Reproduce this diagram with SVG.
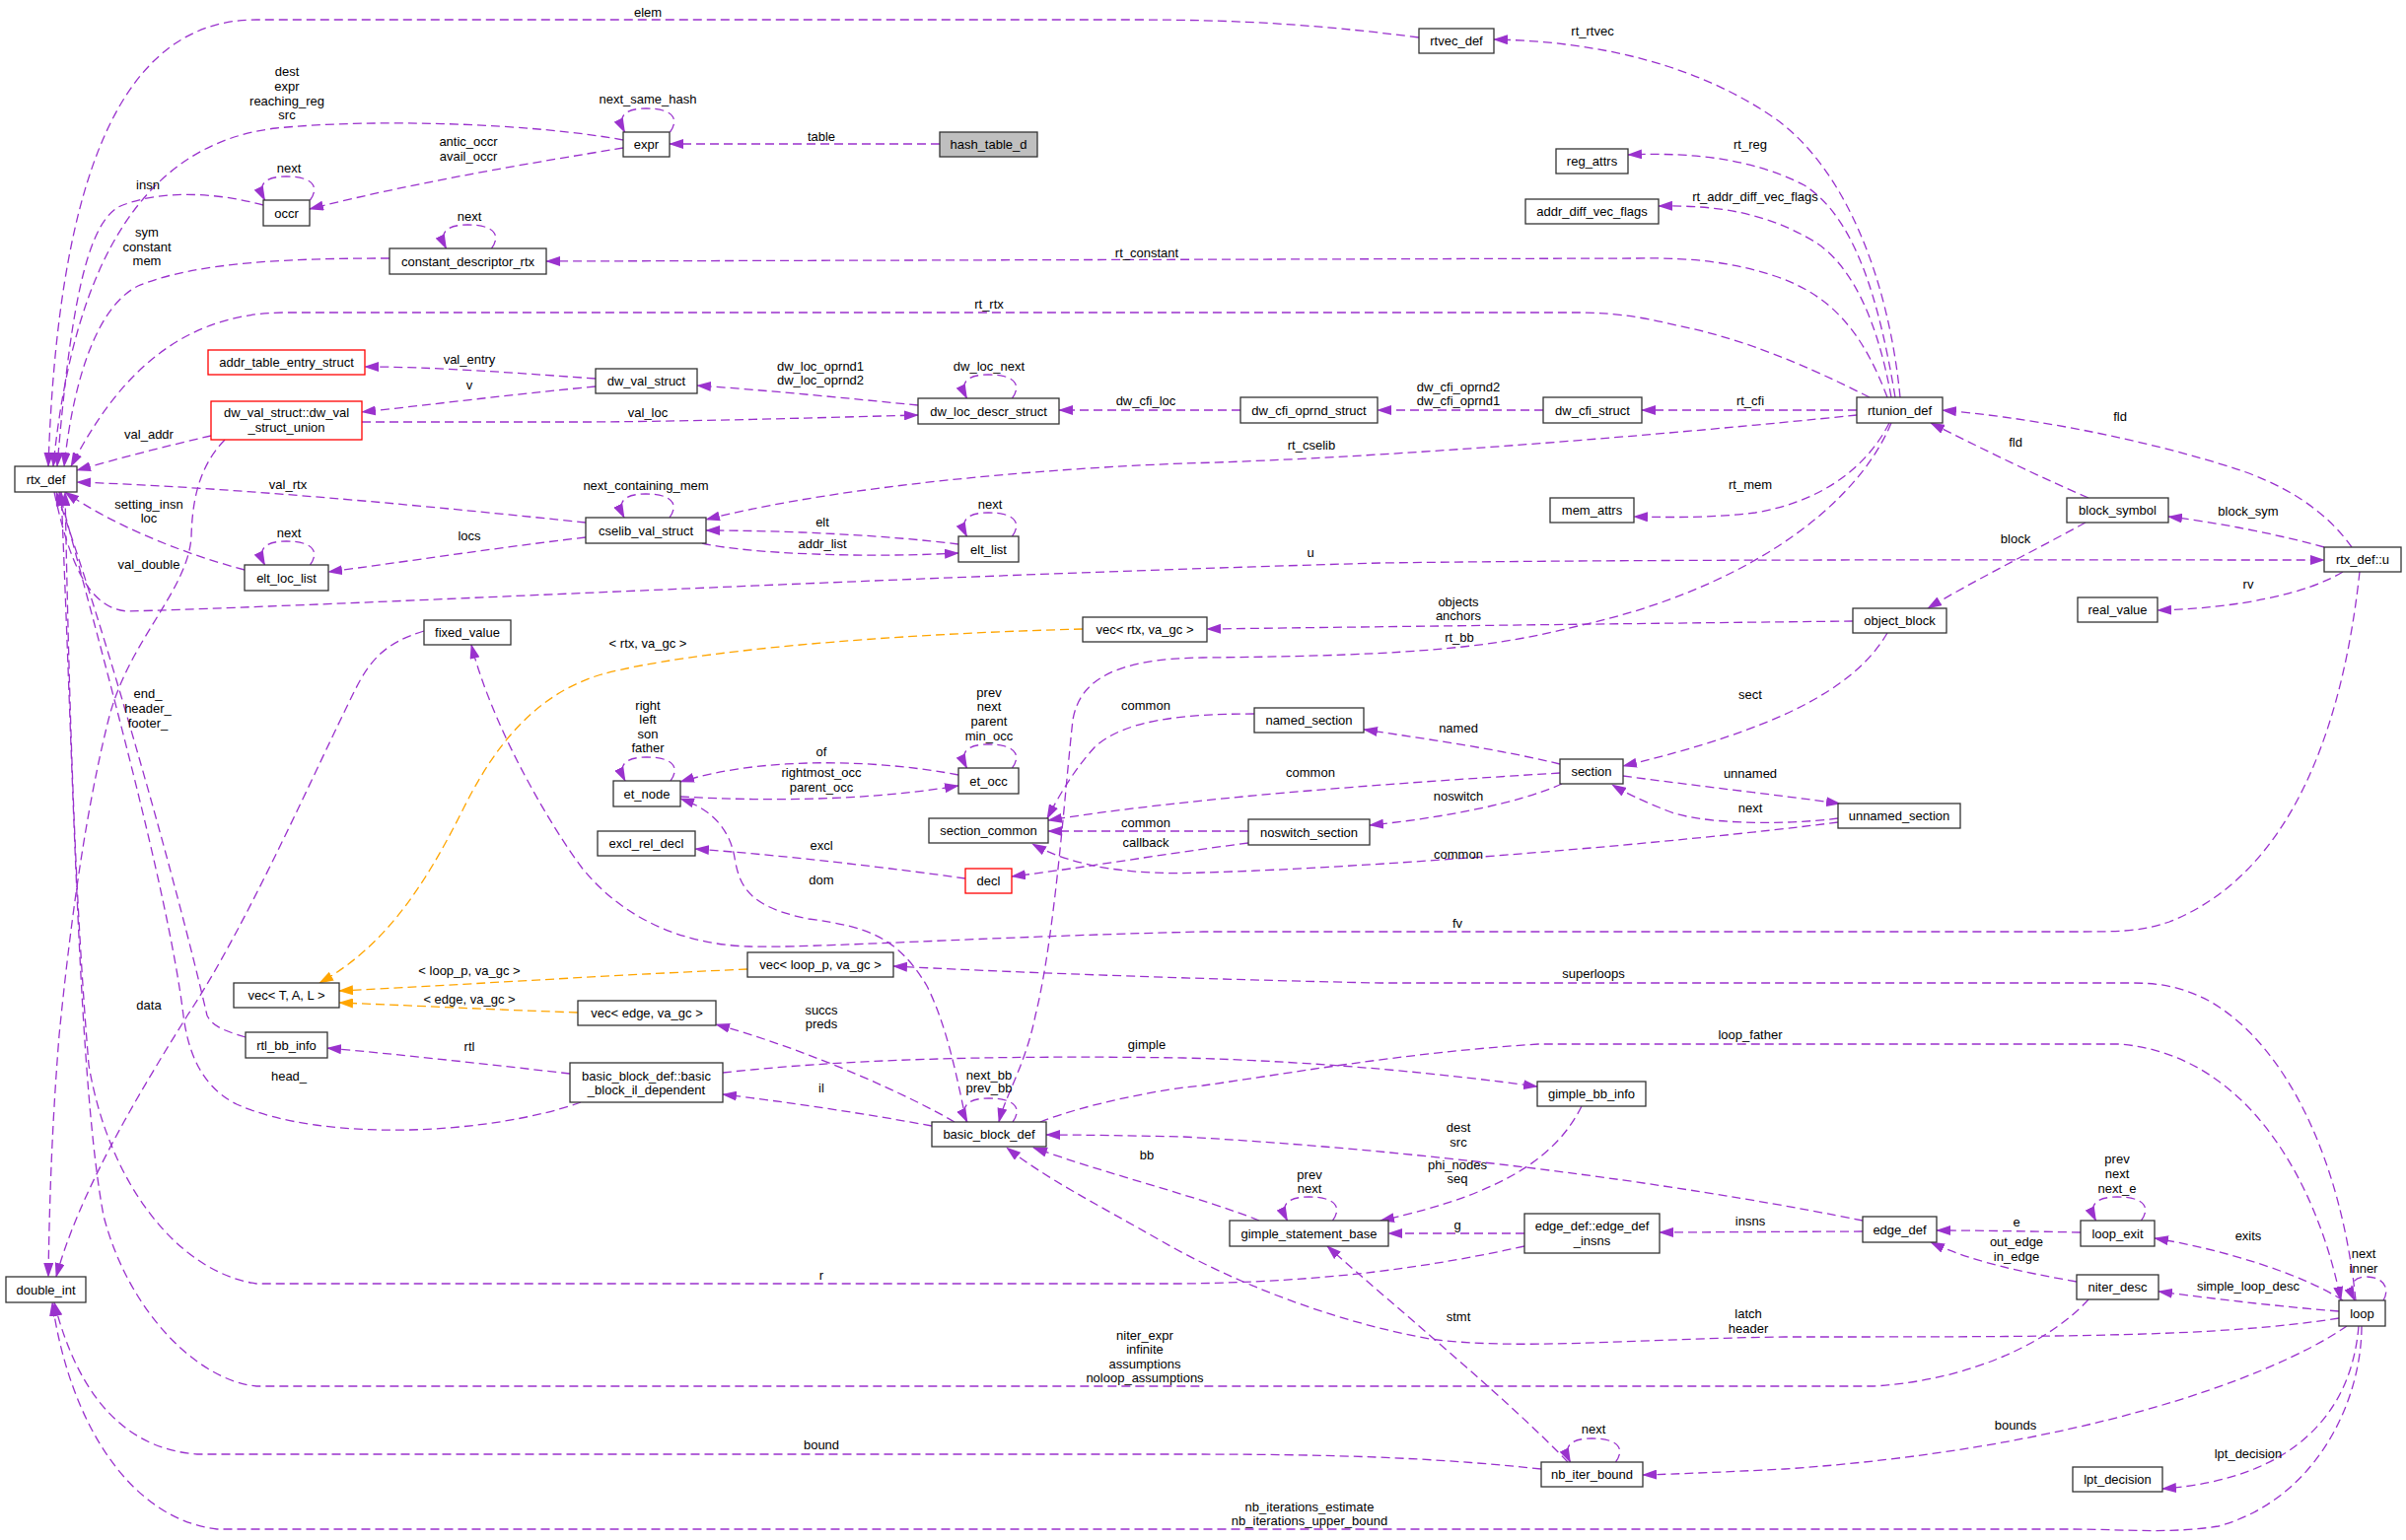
<svg xmlns="http://www.w3.org/2000/svg" width="2440" height="1562" viewBox="0 0 2440 1562">
<defs>
<style>
.n rect{fill:#fff;stroke:#333;stroke-width:1.3}
.n rect.red{stroke:#ff0000}
.n rect.gray{fill:#bfbfbf}
text{font-family:"Liberation Sans",Arial,Helvetica,sans-serif;font-size:13px;text-anchor:middle;fill:#000}
.e path{fill:none;stroke:#9a32cd;stroke-width:1.3;stroke-dasharray:9,5}
.e path.o{stroke:#ffa500}
</style>
<marker id="ap" markerWidth="15" markerHeight="10" refX="14" refY="5" orient="auto" markerUnits="userSpaceOnUse"><path d="M0,0 L15,5 L0,10 z" fill="#9a32cd" stroke="none"/></marker>
<marker id="ao" markerWidth="15" markerHeight="10" refX="14" refY="5" orient="auto" markerUnits="userSpaceOnUse"><path d="M0,0 L15,5 L0,10 z" fill="#ffa500" stroke="none"/></marker>
</defs>
<rect x="0" y="0" width="2440" height="1562" fill="#fff"/>
<g id="edges" class="e">
<path marker-end="url(#ap)" d="M1439,38 C1330,24 1250,20 1150,20 L260,20 C140,20 60,140 49,473"/>
<path marker-end="url(#ap)" d="M632,142 C540,125 380,120 280,130 C150,145 75,260 54,473"/>
<path marker-end="url(#ap)" d="M632,150 C540,165 420,185 314,212"/>
<path marker-end="url(#ap)" d="M679.5,134 C689.5,120 681.5,110 655.5,110 C633.5,110 625.5,118 633.5,134"/>
<path marker-end="url(#ap)" d="M953,146 L679,146"/>
<path marker-end="url(#ap)" d="M267,208 C220,195 160,192 120,210 C85,230 70,330 58,473"/>
<path marker-end="url(#ap)" d="M314.5,203 C324.5,189 316.5,179 290.5,179 C268.5,179 260.5,187 268.5,203"/>
<path marker-end="url(#ap)" d="M395,262 C300,262 200,265 140,290 C100,310 75,380 65,473"/>
<path marker-end="url(#ap)" d="M498.5,252 C508.5,238 500.5,228 474.5,228 C452.5,228 444.5,236 452.5,252"/>
<path marker-end="url(#ap)" d="M1927,403 C1915,280 1870,170 1800,120 C1720,65 1620,42 1515,40"/>
<path marker-end="url(#ap)" d="M1922,403 C1905,300 1880,220 1830,188 C1780,162 1720,154 1651,157"/>
<path marker-end="url(#ap)" d="M1918,403 C1905,330 1880,270 1840,245 C1790,215 1740,208 1682,209"/>
<path marker-end="url(#ap)" d="M1914,403 C1890,340 1860,300 1800,280 C1760,267 1720,261 1660,262 L554,265"/>
<path marker-end="url(#ap)" d="M1896,403 C1860,385 1780,345 1700,330 C1660,320 1630,317 1600,317 L290,317 C170,317 110,400 72,473"/>
<path marker-end="url(#ap)" d="M604,384 C520,378 440,372 370,372"/>
<path marker-end="url(#ap)" d="M604,392 C520,400 440,410 367,418"/>
<path marker-end="url(#ap)" d="M931,411 C860,404 780,396 707,391"/>
<path marker-end="url(#ap)" d="M367,428 L600,428 C720,427 820,424 931,421"/>
<path marker-end="url(#ap)" d="M1026.5,404 C1036.5,390 1028.5,380 1002.5,380 C980.5,380 972.5,388 980.5,404"/>
<path marker-end="url(#ap)" d="M1258,416 L1074,416"/>
<path marker-end="url(#ap)" d="M1565,416 L1397,416"/>
<path marker-end="url(#ap)" d="M1883,416 L1665,416"/>
<path marker-end="url(#ap)" d="M214,442 C170,452 120,465 78,477"/>
<path marker-end="url(#ap)" d="M1883,421 C1700,440 1400,465 1200,470 C1000,478 820,500 716,527"/>
<path marker-end="url(#ap)" d="M594,530 C450,515 250,495 78,489"/>
<path marker-end="url(#ap)" d="M679,525 C689,511 681,501 655,501 C633,501 625,509 633,525"/>
<path marker-end="url(#ap)" d="M594,545 C500,556 410,570 333,580"/>
<path marker-end="url(#ap)" d="M972,552 C900,543 800,538 716,538"/>
<path marker-end="url(#ap)" d="M712,551 C760,562 880,566 972,561"/>
<path marker-end="url(#ap)" d="M1026.5,544 C1036.5,530 1028.5,520 1002.5,520 C980.5,520 972.5,528 980.5,544"/>
<path marker-end="url(#ap)" d="M248,578 C180,560 110,530 66,499"/>
<path marker-end="url(#ap)" d="M314.5,573 C324.5,559 316.5,549 290.5,549 C268.5,549 260.5,557 268.5,573"/>
<path marker-end="url(#ap)" d="M55,499 C70,570 90,618 130,620 C400,612 900,585 1400,571 C1700,567 2000,568 2357,568"/>
<path marker-end="url(#ap)" d="M1916,429 C1890,480 1840,510 1780,520 C1740,525 1700,525 1657,524"/>
<path marker-end="url(#ap)" d="M1918,429 C1880,520 1760,600 1600,635 C1520,655 1450,665 1220,667 C1130,668 1095,690 1088,730 C1080,800 1070,950 1050,1030 C1040,1080 1020,1110 1013,1138"/>
<path marker-end="url(#ap)" d="M2385,555 C2360,520 2320,490 2250,470 C2150,440 2050,423 1970,416"/>
<path marker-end="url(#ap)" d="M2118,505 C2060,480 2010,455 1958,429"/>
<path marker-end="url(#ap)" d="M2357,555 C2310,542 2250,530 2199,524"/>
<path marker-end="url(#ap)" d="M2115,530 C2060,560 2000,590 1955,617"/>
<path marker-end="url(#ap)" d="M2376,580 C2340,602 2270,617 2188,619"/>
<path marker-end="url(#ap)" d="M2393,580 C2380,700 2340,880 2200,935 C2170,945 2150,945 2100,945 L1220,945 C1000,950 820,962 760,960 C690,958 630,930 590,880 C560,840 500,740 478,654"/>
<path marker-end="url(#ap)" d="M1879,630 C1700,632 1450,635 1224,638"/>
<path class="o" marker-end="url(#ao)" d="M1098,638 C900,643 700,660 610,684 C540,705 500,760 470,820 C430,900 390,960 324,997"/>
<path marker-end="url(#ap)" d="M1272,724 C1200,724 1140,730 1110,758 C1090,780 1075,805 1062,830"/>
<path marker-end="url(#ap)" d="M1582,775 C1520,760 1450,750 1383,740"/>
<path marker-end="url(#ap)" d="M1582,784 C1400,795 1200,810 1063,832"/>
<path marker-end="url(#ap)" d="M1584,795 C1540,815 1460,830 1389,837"/>
<path marker-end="url(#ap)" d="M1266,843 L1063,843"/>
<path marker-end="url(#ap)" d="M1266,855 C1180,866 1100,880 1026,889"/>
<path marker-end="url(#ap)" d="M1864,834 C1700,855 1400,880 1220,885 C1150,888 1090,880 1047,856"/>
<path marker-end="url(#ap)" d="M1646,787 C1720,797 1800,806 1866,815"/>
<path marker-end="url(#ap)" d="M1864,830 C1800,838 1720,835 1690,822 C1665,812 1650,805 1635,796"/>
<path marker-end="url(#ap)" d="M1914,642 C1880,700 1800,740 1646,777"/>
<path marker-end="url(#ap)" d="M680,792 C690,778 682,768 656,768 C634,768 626,776 634,792"/>
<path marker-end="url(#ap)" d="M1026.5,779 C1036.5,765 1028.5,755 1002.5,755 C980.5,755 972.5,763 980.5,779"/>
<path marker-end="url(#ap)" d="M972,786 C900,772 780,765 690,793"/>
<path marker-end="url(#ap)" d="M690,808 C780,813 880,812 972,797"/>
<path marker-end="url(#ap)" d="M980,1138 C970,1090 960,1040 940,1000 C910,950 880,940 820,932 C760,920 750,900 745,870 C740,840 720,820 690,810"/>
<path marker-end="url(#ap)" d="M979,891 C900,880 800,868 705,861"/>
<path marker-end="url(#ap)" d="M2389,1319 C2375,1180 2320,1060 2240,1015 C2210,1000 2190,997 2160,997 L1400,997 C1200,993 1000,985 906,980"/>
<path class="o" marker-end="url(#ao)" d="M758,983 C600,990 450,1000 344,1005"/>
<path class="o" marker-end="url(#ao)" d="M586,1027 C500,1024 420,1020 344,1017"/>
<path marker-end="url(#ap)" d="M968,1138 C920,1110 820,1065 726,1039"/>
<path marker-end="url(#ap)" d="M578,1089 C500,1080 410,1070 332,1063"/>
<path marker-end="url(#ap)" d="M589,1118 C500,1150 330,1160 240,1120 C200,1100 190,1060 186,1030 C170,900 100,650 60,499"/>
<path marker-end="url(#ap)" d="M249,1052 C225,1045 215,1040 210,1030 C180,900 110,650 57,499"/>
<path marker-end="url(#ap)" d="M228,446 C205,470 195,500 194,545 C190,600 130,650 110,730 C85,830 70,950 60,1050 C52,1150 50,1230 49,1295"/>
<path marker-end="url(#ap)" d="M430,640 C390,652 375,670 360,700 C320,780 250,940 190,1030 C140,1110 80,1210 57,1295"/>
<path marker-end="url(#ap)" d="M945,1142 C880,1130 800,1118 733,1110"/>
<path marker-end="url(#ap)" d="M733,1088 C850,1075 1000,1070 1200,1073 C1350,1077 1470,1090 1559,1102"/>
<path marker-end="url(#ap)" d="M1027,1138 C1037,1124 1029,1114 1003,1114 C981,1114 973,1122 981,1138"/>
<path marker-end="url(#ap)" d="M1055,1138 C1100,1120 1180,1104 1220,1101 C1300,1090 1420,1068 1560,1059 L2150,1059 C2280,1070 2350,1200 2374,1319"/>
<path marker-end="url(#ap)" d="M1277,1238 C1220,1215 1120,1190 1048,1164"/>
<path marker-end="url(#ap)" d="M1604,1122 C1580,1170 1530,1210 1400,1238"/>
<path marker-end="url(#ap)" d="M1351.5,1238 C1361.5,1224 1353.5,1214 1327.5,1214 C1305.5,1214 1297.5,1222 1305.5,1238"/>
<path marker-end="url(#ap)" d="M1889,1238 C1750,1210 1500,1170 1200,1153 C1150,1152 1100,1151 1061,1151"/>
<path marker-end="url(#ap)" d="M1546,1251 L1408,1251"/>
<path marker-end="url(#ap)" d="M1889,1249 L1683,1250"/>
<path marker-end="url(#ap)" d="M1546,1264 C1450,1285 1350,1300 1200,1302 L260,1302 C180,1290 110,1200 90,1080 C75,900 70,700 66,499"/>
<path marker-end="url(#ap)" d="M2110,1250 C2060,1249 2010,1248 1964,1248"/>
<path marker-end="url(#ap)" d="M2106,1300 C2050,1290 2000,1280 1958,1260"/>
<path marker-end="url(#ap)" d="M2171.5,1238 C2181.5,1224 2173.5,1214 2147.5,1214 C2125.5,1214 2117.5,1222 2125.5,1238"/>
<path marker-end="url(#ap)" d="M2376,1319 C2340,1295 2260,1268 2185,1256"/>
<path marker-end="url(#ap)" d="M2372,1330 C2310,1325 2250,1318 2189,1310"/>
<path marker-end="url(#ap)" d="M2417,1319 C2425,1305 2415,1295 2400,1295 C2388,1295 2380,1302 2388,1319"/>
<path marker-end="url(#ap)" d="M2372,1337 C2250,1356 2100,1356 1810,1356 C1650,1358 1540,1370 1450,1358 C1350,1340 1250,1300 1180,1260 C1110,1220 1060,1195 1021,1164"/>
<path marker-end="url(#ap)" d="M1590,1483 C1530,1420 1420,1330 1346,1264"/>
<path marker-end="url(#ap)" d="M2118,1318 C2080,1360 2000,1400 1900,1406 L260,1406 C200,1400 130,1330 105,1233 C80,1100 75,800 62,499"/>
<path marker-end="url(#ap)" d="M1638.5,1483 C1648.5,1469 1640.5,1459 1614.5,1459 C1592.5,1459 1584.5,1467 1592.5,1483"/>
<path marker-end="url(#ap)" d="M2380,1345 C2300,1400 2100,1470 1810,1490 C1750,1493 1700,1495 1666,1496"/>
<path marker-end="url(#ap)" d="M1563,1490 C1450,1478 1350,1475 1200,1475 L200,1475 C130,1470 80,1420 55,1321"/>
<path marker-end="url(#ap)" d="M2392,1345 C2385,1430 2330,1500 2193,1510"/>
<path marker-end="url(#ap)" d="M2395,1345 C2395,1420 2350,1520 2250,1548 C2200,1556 2150,1551 2100,1551 L220,1551 C130,1540 70,1440 53,1321"/>
</g>
<g id="edge-labels">
<text x="657" y="17">elem</text>
<text x="291" y="77">dest</text><text x="291" y="92">expr</text><text x="291" y="107">reaching_reg</text><text x="291" y="121">src</text>
<text x="657" y="105">next_same_hash</text>
<text x="833" y="143">table</text>
<text x="475" y="148">antic_occr</text><text x="475" y="163">avail_occr</text>
<text x="150" y="192">insn</text>
<text x="293" y="175">next</text>
<text x="149" y="240">sym</text><text x="149" y="255">constant</text><text x="149" y="269">mem</text>
<text x="476" y="224">next</text>
<text x="1615" y="36">rt_rtvec</text>
<text x="1775" y="151">rt_reg</text>
<text x="1780" y="204">rt_addr_diff_vec_flags</text>
<text x="1163" y="261">rt_constant</text>
<text x="1003" y="313">rt_rtx</text>
<text x="476" y="369">val_entry</text>
<text x="476" y="395">v</text>
<text x="832" y="376">dw_loc_oprnd1</text><text x="832" y="390">dw_loc_oprnd2</text>
<text x="1003" y="376">dw_loc_next</text>
<text x="657" y="423">val_loc</text>
<text x="1162" y="411">dw_cfi_loc</text>
<text x="1479" y="397">dw_cfi_oprnd2</text><text x="1479" y="411">dw_cfi_oprnd1</text>
<text x="1775" y="411">rt_cfi</text>
<text x="151" y="445">val_addr</text>
<text x="1330" y="456">rt_cselib</text>
<text x="292" y="496">val_rtx</text>
<text x="655" y="497">next_containing_mem</text>
<text x="1775" y="496">rt_mem</text>
<text x="2150" y="427">fld</text>
<text x="2044" y="453">fld</text>
<text x="151" y="516">setting_insn</text><text x="151" y="530">loc</text>
<text x="1004" y="516">next</text>
<text x="2280" y="523">block_sym</text>
<text x="834" y="534">elt</text>
<text x="293" y="545">next</text>
<text x="476" y="548">locs</text>
<text x="2044" y="551">block</text>
<text x="834" y="556">addr_list</text>
<text x="1329" y="565">u</text>
<text x="151" y="577">val_double</text>
<text x="2280" y="597">rv</text>
<text x="1479" y="615">objects</text><text x="1479" y="629">anchors</text>
<text x="1480" y="651">rt_bb</text>
<text x="657" y="657">&lt; rtx, va_gc &gt;</text>
<text x="150" y="708">end_</text><text x="150" y="723">header_</text><text x="150" y="738">footer_</text>
<text x="1775" y="709">sect</text>
<text x="1003" y="707">prev</text><text x="1003" y="721">next</text><text x="1003" y="736">parent</text><text x="1003" y="751">min_occ</text>
<text x="657" y="720">right</text><text x="657" y="734">left</text><text x="657" y="749">son</text><text x="657" y="763">father</text>
<text x="1162" y="720">common</text>
<text x="1479" y="743">named</text>
<text x="833" y="767">of</text>
<text x="833" y="788">rightmost_occ</text><text x="833" y="803">parent_occ</text>
<text x="1329" y="788">common</text>
<text x="1775" y="789">unnamed</text>
<text x="1479" y="812">noswitch</text>
<text x="1775" y="824">next</text>
<text x="1162" y="839">common</text>
<text x="1162" y="859">callback</text>
<text x="833" y="862">excl</text>
<text x="1479" y="871">common</text>
<text x="833" y="897">dom</text>
<text x="1478" y="941">fv</text>
<text x="476" y="989">&lt; loop_p, va_gc &gt;</text>
<text x="1616" y="992">superloops</text>
<text x="476" y="1018">&lt; edge, va_gc &gt;</text>
<text x="151" y="1024">data</text>
<text x="833" y="1029">succs</text><text x="833" y="1043">preds</text>
<text x="1163" y="1064">gimple</text>
<text x="476" y="1066">rtl</text>
<text x="1775" y="1054">loop_father</text>
<text x="1003" y="1095">next_bb</text><text x="1003" y="1108">prev_bb</text>
<text x="293" y="1096">head_</text>
<text x="833" y="1108">il</text>
<text x="1479" y="1148">dest</text><text x="1479" y="1163">src</text>
<text x="1163" y="1176">bb</text>
<text x="2147" y="1180">prev</text><text x="2147" y="1195">next</text><text x="2147" y="1210">next_e</text>
<text x="1478" y="1186">phi_nodes</text><text x="1478" y="1200">seq</text>
<text x="1328" y="1196">prev</text><text x="1328" y="1210">next</text>
<text x="2045" y="1244">e</text>
<text x="1775" y="1243">insns</text>
<text x="1478" y="1247">g</text>
<text x="2280" y="1258">exits</text>
<text x="2045" y="1264">out_edge</text><text x="2045" y="1279">in_edge</text>
<text x="2397" y="1276">next</text><text x="2397" y="1291">inner</text>
<text x="833" y="1298">r</text>
<text x="2280" y="1309">simple_loop_desc</text>
<text x="1773" y="1337">latch</text><text x="1773" y="1352">header</text>
<text x="1479" y="1340">stmt</text>
<text x="1161" y="1359">niter_expr</text><text x="1161" y="1373">infinite</text><text x="1161" y="1388">assumptions</text><text x="1161" y="1402">noloop_assumptions</text>
<text x="2044" y="1450">bounds</text>
<text x="1616" y="1454">next</text>
<text x="833" y="1470">bound</text>
<text x="2280" y="1479">lpt_decision</text>
<text x="1328" y="1533">nb_iterations_estimate</text><text x="1328" y="1547">nb_iterations_upper_bound</text>
</g>
<g id="node-rtx_def" class="n"><rect x="15" y="473" width="63" height="26"/><text x="46.5" y="490.5">rtx_def</text></g>
<g id="node-occr" class="n"><rect x="267" y="203" width="47" height="26"/><text x="290.5" y="220.5">occr</text></g>
<g id="node-expr" class="n"><rect x="632" y="134" width="47" height="25"/><text x="655.5" y="151">expr</text></g>
<g id="node-hash_table_d" class="n"><rect class="gray" x="953" y="134" width="99" height="25"/><text x="1002.5" y="151">hash_table_d</text></g>
<g id="node-constant_descriptor_rtx" class="n"><rect x="395" y="252" width="159" height="26"/><text x="474.5" y="269.5">constant_descriptor_rtx</text></g>
<g id="node-rtvec_def" class="n"><rect x="1439" y="29" width="76" height="25"/><text x="1477" y="46">rtvec_def</text></g>
<g id="node-reg_attrs" class="n"><rect x="1578" y="151" width="73" height="25"/><text x="1614.5" y="168">reg_attrs</text></g>
<g id="node-addr_diff_vec_flags" class="n"><rect x="1547" y="202" width="135" height="25"/><text x="1614.5" y="219">addr_diff_vec_flags</text></g>
<g id="node-addr_table_entry_struct" class="n"><rect class="red" x="211" y="355" width="159" height="25"/><text x="290.5" y="372">addr_table_entry_struct</text></g>
<g id="node-dw_val_struct_union" class="n"><rect class="red" x="214" y="407" width="153" height="39"/><text x="290.5" y="423">dw_val_struct::dw_val</text><text x="290.5" y="437.5">_struct_union</text></g>
<g id="node-dw_val_struct" class="n"><rect x="604" y="374" width="103" height="25"/><text x="655.5" y="391">dw_val_struct</text></g>
<g id="node-dw_loc_descr_struct" class="n"><rect x="931" y="404" width="143" height="26"/><text x="1002.5" y="421.5">dw_loc_descr_struct</text></g>
<g id="node-dw_cfi_oprnd_struct" class="n"><rect x="1258" y="403" width="139" height="26"/><text x="1327.5" y="420.5">dw_cfi_oprnd_struct</text></g>
<g id="node-dw_cfi_struct" class="n"><rect x="1565" y="403" width="100" height="26"/><text x="1615" y="420.5">dw_cfi_struct</text></g>
<g id="node-rtunion_def" class="n"><rect x="1883" y="403" width="87" height="26"/><text x="1926.5" y="420.5">rtunion_def</text></g>
<g id="node-mem_attrs" class="n"><rect x="1572" y="505" width="85" height="25"/><text x="1614.5" y="522">mem_attrs</text></g>
<g id="node-cselib_val_struct" class="n"><rect x="594" y="525" width="122" height="26"/><text x="655" y="542.5">cselib_val_struct</text></g>
<g id="node-elt_list" class="n"><rect x="972" y="544" width="61" height="26"/><text x="1002.5" y="561.5">elt_list</text></g>
<g id="node-elt_loc_list" class="n"><rect x="248" y="573" width="85" height="26"/><text x="290.5" y="590.5">elt_loc_list</text></g>
<g id="node-block_symbol" class="n"><rect x="2096" y="505" width="103" height="25"/><text x="2147.5" y="522">block_symbol</text></g>
<g id="node-rtx_def_u" class="n"><rect x="2357" y="555" width="78" height="25"/><text x="2396" y="572">rtx_def::u</text></g>
<g id="node-fixed_value" class="n"><rect x="430" y="629" width="88" height="25"/><text x="474" y="646">fixed_value</text></g>
<g id="node-vec_rtx" class="n"><rect x="1098" y="626" width="126" height="25"/><text x="1161" y="643">vec&lt; rtx, va_gc &gt;</text></g>
<g id="node-object_block" class="n"><rect x="1879" y="617" width="95" height="25"/><text x="1926.5" y="634">object_block</text></g>
<g id="node-real_value" class="n"><rect x="2107" y="606" width="81" height="25"/><text x="2147.5" y="623">real_value</text></g>
<g id="node-named_section" class="n"><rect x="1272" y="718" width="111" height="25"/><text x="1327.5" y="735">named_section</text></g>
<g id="node-section" class="n"><rect x="1582" y="770" width="64" height="25"/><text x="1614" y="787">section</text></g>
<g id="node-noswitch_section" class="n"><rect x="1266" y="831" width="123" height="26"/><text x="1327.5" y="848.5">noswitch_section</text></g>
<g id="node-unnamed_section" class="n"><rect x="1864" y="815" width="124" height="25"/><text x="1926" y="832">unnamed_section</text></g>
<g id="node-et_node" class="n"><rect x="622" y="792" width="68" height="26"/><text x="656" y="809.5">et_node</text></g>
<g id="node-et_occ" class="n"><rect x="972" y="779" width="61" height="26"/><text x="1002.5" y="796.5">et_occ</text></g>
<g id="node-section_common" class="n"><rect x="942" y="830" width="121" height="25"/><text x="1002.5" y="847">section_common</text></g>
<g id="node-excl_rel_decl" class="n"><rect x="606" y="843" width="99" height="25"/><text x="655.5" y="860">excl_rel_decl</text></g>
<g id="node-decl" class="n"><rect class="red" x="979" y="881" width="47" height="25"/><text x="1002.5" y="898">decl</text></g>
<g id="node-vec_loop_p" class="n"><rect x="758" y="966" width="148" height="25"/><text x="832" y="983">vec&lt; loop_p, va_gc &gt;</text></g>
<g id="node-vec_T_A_L" class="n"><rect x="237" y="997" width="107" height="25"/><text x="290.5" y="1014">vec&lt; T, A, L &gt;</text></g>
<g id="node-vec_edge" class="n"><rect x="586" y="1015" width="140" height="25"/><text x="656" y="1032">vec&lt; edge, va_gc &gt;</text></g>
<g id="node-rtl_bb_info" class="n"><rect x="249" y="1047" width="83" height="26"/><text x="290.5" y="1064.5">rtl_bb_info</text></g>
<g id="node-basic_block_il_dependent" class="n"><rect x="578" y="1078" width="155" height="40"/><text x="655.5" y="1095.5">basic_block_def::basic</text><text x="655.5" y="1109.5">_block_il_dependent</text></g>
<g id="node-basic_block_def" class="n"><rect x="945" y="1138" width="116" height="25"/><text x="1003" y="1155">basic_block_def</text></g>
<g id="node-gimple_bb_info" class="n"><rect x="1559" y="1097" width="110" height="25"/><text x="1614" y="1114">gimple_bb_info</text></g>
<g id="node-gimple_statement_base" class="n"><rect x="1247" y="1238" width="161" height="26"/><text x="1327.5" y="1255.5">gimple_statement_base</text></g>
<g id="node-edge_def_insns" class="n"><rect x="1546" y="1231" width="137" height="40"/><text x="1614.5" y="1247.5">edge_def::edge_def</text><text x="1614.5" y="1262.5">_insns</text></g>
<g id="node-edge_def" class="n"><rect x="1889" y="1234" width="75" height="26"/><text x="1926.5" y="1251.5">edge_def</text></g>
<g id="node-loop_exit" class="n"><rect x="2110" y="1238" width="75" height="26"/><text x="2147.5" y="1255.5">loop_exit</text></g>
<g id="node-niter_desc" class="n"><rect x="2106" y="1293" width="83" height="25"/><text x="2147.5" y="1310">niter_desc</text></g>
<g id="node-loop" class="n"><rect x="2372" y="1319" width="47" height="26"/><text x="2395.5" y="1336.5">loop</text></g>
<g id="node-lpt_decision" class="n"><rect x="2102" y="1488" width="91" height="25"/><text x="2147.5" y="1505">lpt_decision</text></g>
<g id="node-nb_iter_bound" class="n"><rect x="1563" y="1483" width="103" height="25"/><text x="1614.5" y="1500">nb_iter_bound</text></g>
<g id="node-double_int" class="n"><rect x="6" y="1295" width="81" height="26"/><text x="46.5" y="1312.5">double_int</text></g>
</svg>
